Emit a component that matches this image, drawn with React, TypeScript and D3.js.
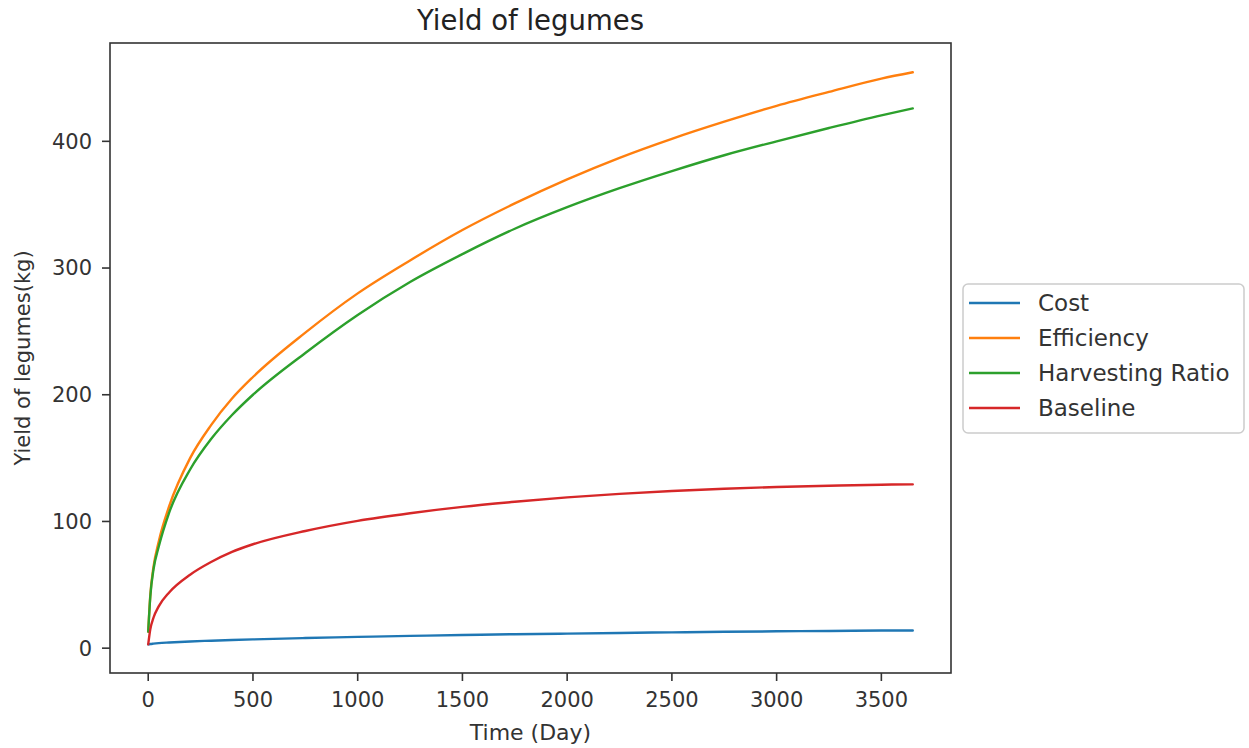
import React from 'react';
import * as d3 from 'd3';

const days = [0, 10, 25, 50, 100, 200, 300, 400, 500, 750, 1000, 1250, 1500, 1750, 2000, 2250, 2500, 2750, 3000, 3250, 3500, 3650];

const costValues = [3, 3.3, 3.6, 4, 4.5, 5.3, 5.9, 6.4, 6.9, 8, 8.9, 9.7, 10.4, 11, 11.5, 12, 12.5, 12.9, 13.3, 13.6, 13.9, 14];
const efficiencyValues = [13, 42, 64, 84, 112, 150, 176, 197, 214, 249, 280, 306, 330, 351, 370, 387, 402, 415.5, 428, 439, 449.5, 454.5];
const harvestingValues = [13, 41, 62, 80, 107, 141, 165, 184, 200, 233, 263, 289, 311, 331, 348, 363, 376.5, 389, 400, 410.5, 420.5, 426];
const baselineValues = [3, 15, 24, 33, 44, 58, 68, 76, 82, 92.5, 100.5, 106.5, 111.5, 115.5, 119, 121.8, 124, 125.8, 127.2, 128.2, 129, 129.3];

const seriesNames = ['Cost', 'Efficiency', 'Harvesting Ratio', 'Baseline'];
const seriesColors = ['#1f77b4', '#ff7f0e', '#2ca02c', '#d62728'];
const seriesValues = [costValues, efficiencyValues, harvestingValues, baselineValues];

const xTicks = [0, 500, 1000, 1500, 2000, 2500, 3000, 3500];
const yTicks = [0, 100, 200, 300, 400];

const FONT = 'DejaVu Sans, sans-serif';

const App: React.FC = () => {
  const width = 1249;
  const height = 748;
  const plot = { left: 110, right: 951, top: 43, bottom: 673 };

  const x = d3.scaleLinear().domain([-182.5, 3832.5]).range([plot.left, plot.right]);
  const y = d3.scaleLinear().domain([-19.6, 477.6]).range([plot.bottom, plot.top]);

  const line = d3
    .line<number>()
    .x((_, i) => x(days[i]))
    .y(d => y(d))
    .curve(d3.curveMonotoneX);

  const legend = { x: 963, y: 284, w: 281, h: 149 };

  return (
    <div style={{ position: 'absolute', left: 0, top: 0 }}>
      <svg width={width} height={height} style={{ display: 'block', background: '#fff' }}>
        <text
          x={(plot.left + plot.right) / 2}
          y={30}
          textAnchor="middle"
          fontFamily={FONT}
          fontSize={27.5}
          fill="#222"
        >
          Yield of legumes
        </text>

        {/* curves */}
        <g fill="none" strokeWidth={2.4} strokeLinejoin="round" strokeLinecap="round">
          {seriesValues.map((vals, i) => (
            <path key={seriesNames[i]} d={line(vals) ?? ''} stroke={seriesColors[i]} />
          ))}
        </g>

        {/* axes frame */}
        <rect
          x={plot.left}
          y={plot.top}
          width={plot.right - plot.left}
          height={plot.bottom - plot.top}
          fill="none"
          stroke="#333"
          strokeWidth={1.6}
        />

        {xTicks.map(t => (
          <g key={'x' + t} transform={`translate(${x(t)},${plot.bottom})`}>
            <line y2={8} stroke="#333" strokeWidth={1.6} />
            <text y={34} textAnchor="middle" fontFamily={FONT} fontSize={21} fill="#333">
              {t}
            </text>
          </g>
        ))}
        {yTicks.map(t => (
          <g key={'y' + t} transform={`translate(${plot.left},${y(t)})`}>
            <line x2={-8} stroke="#333" strokeWidth={1.6} />
            <text x={-18} dy="0.35em" textAnchor="end" fontFamily={FONT} fontSize={21} fill="#333">
              {t}
            </text>
          </g>
        ))}

        <text
          x={(plot.left + plot.right) / 2}
          y={740}
          textAnchor="middle"
          fontFamily={FONT}
          fontSize={22}
          fill="#333"
        >
          Time (Day)
        </text>
        <text
          transform={`translate(30,${(plot.top + plot.bottom) / 2}) rotate(-90)`}
          textAnchor="middle"
          fontFamily={FONT}
          fontSize={21}
          fill="#333"
        >
          Yield of legumes(kg)
        </text>

        {/* legend */}
        <rect
          x={legend.x}
          y={legend.y}
          width={legend.w}
          height={legend.h}
          rx={5}
          fill="#fff"
          stroke="#ccc"
          strokeWidth={1.5}
        />
        {seriesNames.map((name, i) => {
          const ly = 303 + i * 35;
          return (
            <g key={name}>
              <line x1={969} x2={1020} y1={ly} y2={ly} stroke={seriesColors[i]} strokeWidth={2.4} />
              <text x={1038} y={ly} dy="0.35em" fontFamily={FONT} fontSize={23} fill="#333">
                {name}
              </text>
            </g>
          );
        })}
      </svg>
    </div>
  );
};

export default App;
